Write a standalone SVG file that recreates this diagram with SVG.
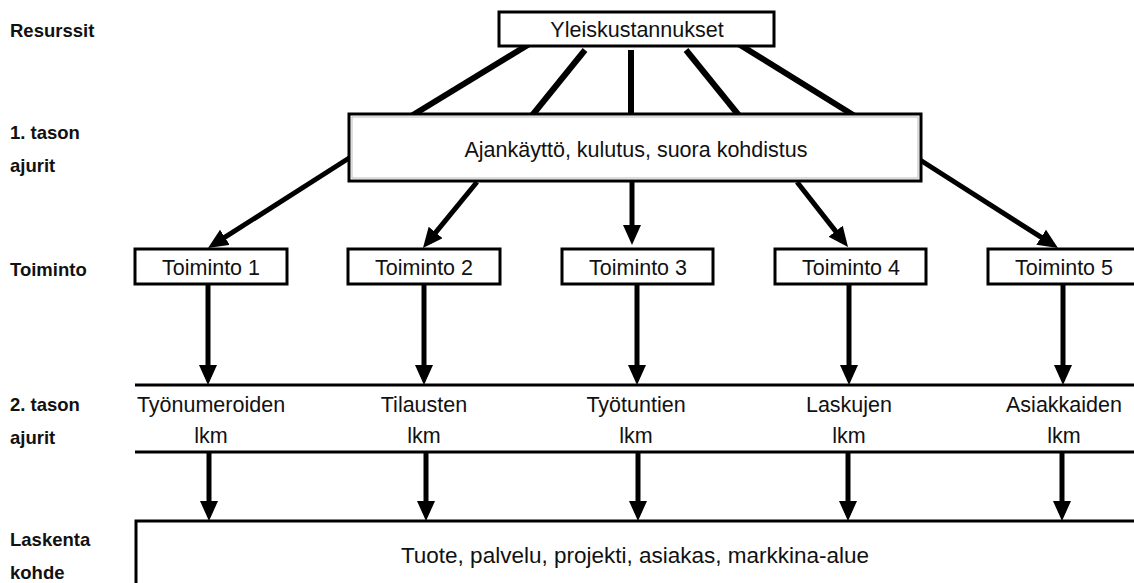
<svg xmlns="http://www.w3.org/2000/svg" width="1134" height="583" viewBox="0 0 1134 583">
<style>
.lbl{font-family:"Liberation Sans",Arial,sans-serif;font-size:18.5px;font-weight:bold;fill:#111}
.t{font-family:"Liberation Sans",Arial,sans-serif;font-size:21.5px;fill:#111;text-anchor:middle}
.box{fill:#fff;stroke:#000;stroke-width:3}
.ln{stroke:#000;stroke-width:6;fill:none}
.ar{stroke:#000;stroke-width:5;fill:none;marker-end:url(#ah)}
.hl{stroke:#000;stroke-width:3}
</style>
<defs>
<marker id="ah" markerUnits="userSpaceOnUse" markerWidth="22" markerHeight="20" refX="4" refY="9" orient="auto">
<path d="M0,0 L20,9 L0,18 z" fill="#000"/>
</marker>
</defs>
<rect width="1134" height="583" fill="#fff"/>
<g id="labels">
<text class="lbl" x="10" y="37">Resurssit</text>
<text class="lbl" x="10" y="139">1. tason</text>
<text class="lbl" x="10" y="172">ajurit</text>
<text class="lbl" x="10" y="276">Toiminto</text>
<text class="lbl" x="10" y="411">2. tason</text>
<text class="lbl" x="10" y="444">ajurit</text>
<text class="lbl" x="10" y="546">Laskenta</text>
<text class="lbl" x="10" y="579">kohde</text>
</g>
<g id="connectors">
<line class="ln" x1="536" y1="40" x2="408" y2="118"/>
<line class="ln" x1="585" y1="50" x2="530" y2="118"/>
<line class="ln" x1="631" y1="50" x2="631" y2="118"/>
<line class="ln" x1="686" y1="50" x2="741" y2="118"/>
<line class="ln" x1="732" y1="40" x2="858" y2="118"/>
<line class="ar" x1="357" y1="153" x2="221.5" y2="239.4"/>
<line class="ar" x1="477" y1="182" x2="433.1" y2="235.6"/>
<line class="ar" x1="632" y1="182" x2="632" y2="229"/>
<line class="ar" x1="797" y1="182" x2="838.1" y2="234.4"/>
<line class="ar" x1="917" y1="158" x2="1044.5" y2="239.4"/>
<line class="ar" x1="208" y1="284" x2="208" y2="369"/>
<line class="ar" x1="424" y1="284" x2="424" y2="369"/>
<line class="ar" x1="637" y1="284" x2="637" y2="369"/>
<line class="ar" x1="849" y1="284" x2="849" y2="369"/>
<line class="ar" x1="1063" y1="284" x2="1063" y2="369"/>
<line class="ar" x1="209" y1="452" x2="209" y2="505"/>
<line class="ar" x1="426" y1="452" x2="426" y2="505"/>
<line class="ar" x1="638" y1="452" x2="638" y2="505"/>
<line class="ar" x1="848" y1="452" x2="848" y2="505"/>
<line class="ar" x1="1062" y1="452" x2="1062" y2="505"/>
<line class="hl" x1="135" y1="385" x2="1134" y2="385"/>
<line class="hl" x1="135" y1="452" x2="1134" y2="452"/>
</g>
<g id="yleiskustannukset">
<rect class="box" x="499" y="12" width="275" height="34"/>
<text class="t" x="637" y="37">Yleiskustannukset</text>
</g>
<g id="ajurit1">
<rect class="box" x="349" y="114" width="572" height="67"/>
<rect x="352" y="117" width="566" height="61" fill="none" stroke="#bbb" stroke-width="1"/>
<text class="t" x="636" y="157">Ajankäyttö, kulutus, suora kohdistus</text>
</g>
<g id="toiminto1">
<rect class="box" x="135" y="249" width="152" height="35"/>
<text class="t" x="211" y="275">Toiminto 1</text>
</g>
<g id="toiminto2">
<rect class="box" x="348" y="249" width="152" height="35"/>
<text class="t" x="424" y="275">Toiminto 2</text>
</g>
<g id="toiminto3">
<rect class="box" x="562" y="249" width="151" height="35"/>
<text class="t" x="638" y="275">Toiminto 3</text>
</g>
<g id="toiminto4">
<rect class="box" x="775" y="249" width="151" height="35"/>
<text class="t" x="851" y="275">Toiminto 4</text>
</g>
<g id="toiminto5">
<rect class="box" x="988" y="249" width="152" height="35"/>
<text class="t" x="1064" y="275">Toiminto 5</text>
</g>
<g id="ajurit2">
<text class="t" x="211" y="412">Työnumeroiden</text>
<text class="t" x="211" y="443">lkm</text>
<text class="t" x="424" y="412">Tilausten</text>
<text class="t" x="424" y="443">lkm</text>
<text class="t" x="636" y="412">Työtuntien</text>
<text class="t" x="636" y="443">lkm</text>
<text class="t" x="849" y="412">Laskujen</text>
<text class="t" x="849" y="443">lkm</text>
<text class="t" x="1064" y="412">Asiakkaiden</text>
<text class="t" x="1064" y="443">lkm</text>
</g>
<g id="kohde">
<rect class="box" x="136" y="521" width="1010" height="80"/>
<text class="t" x="635" y="563" style="font-size:22.5px">Tuote, palvelu, projekti, asiakas, markkina-alue</text>
</g>
</svg>
